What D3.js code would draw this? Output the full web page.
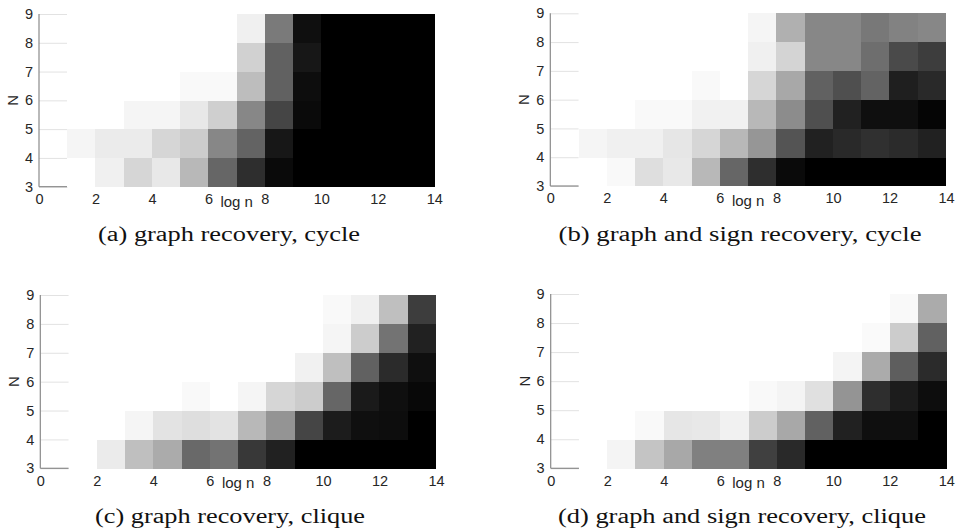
<!DOCTYPE html>
<html><head><meta charset="utf-8">
<script src="https://cdn.jsdelivr.net/npm/d3@7"></script>
<style>body{margin:0;background:#fff}svg{display:block}</style>
</head><body>
<svg id="chart" width="956" height="529"></svg>
<script>
// Data: rows are N = 3..8 (cell [N, N+1]); columns are log n = 1..13 (cell [c, c+1])
// values = darkness (0 = white, 1 = black)
const nRows = [3, 4, 5, 6, 7, 8];
const logNCols = [1, 2, 3, 4, 5, 6, 7, 8, 9, 10, 11, 12, 13];
const xTicks = [0, 2, 4, 6, 8, 10, 12, 14];
const yTicks = [3, 4, 5, 6, 7, 8, 9];

const cycleGraph = [
  [0, 0.06, 0.16, 0.09, 0.28, 0.6, 0.82, 0.96, 1, 1, 1, 1, 1],
  [0.04, 0.08, 0.08, 0.16, 0.2, 0.47, 0.61, 0.91, 1, 1, 1, 1, 1],
  [0, 0, 0.04, 0.04, 0.09, 0.19, 0.47, 0.73, 0.96, 1, 1, 1, 1],
  [0, 0, 0, 0, 0.025, 0.025, 0.26, 0.62, 0.95, 1, 1, 1, 1],
  [0, 0, 0, 0, 0, 0, 0.18, 0.62, 0.91, 1, 1, 1, 1],
  [0, 0, 0, 0, 0, 0, 0.06, 0.52, 0.94, 1, 1, 1, 1]
];
const cycleSign = [
  [0, 0.025, 0.13, 0.09, 0.28, 0.6, 0.82, 0.96, 1, 1, 1, 1, 1],
  [0.04, 0.06, 0.06, 0.1, 0.16, 0.28, 0.41, 0.67, 0.87, 0.84, 0.81, 0.83, 0.87],
  [0, 0, 0.025, 0.025, 0.055, 0.055, 0.28, 0.45, 0.69, 0.87, 0.94, 0.94, 0.98],
  [0, 0, 0, 0, 0.025, 0, 0.16, 0.34, 0.62, 0.69, 0.61, 0.88, 0.84],
  [0, 0, 0, 0, 0, 0, 0.06, 0.17, 0.47, 0.47, 0.57, 0.71, 0.76],
  [0, 0, 0, 0, 0, 0, 0.04, 0.31, 0.47, 0.47, 0.53, 0.49, 0.47]
];
const cliqueGraph = [
  [0, 0.08, 0.25, 0.33, 0.59, 0.55, 0.78, 0.87, 1, 1, 1, 1, 1],
  [0, 0, 0.04, 0.11, 0.13, 0.11, 0.28, 0.42, 0.73, 0.89, 0.94, 0.95, 1],
  [0, 0, 0, 0, 0.025, 0, 0.04, 0.16, 0.2, 0.6, 0.9, 0.94, 0.97],
  [0, 0, 0, 0, 0, 0, 0, 0, 0.055, 0.25, 0.62, 0.83, 0.94],
  [0, 0, 0, 0, 0, 0, 0, 0, 0, 0.04, 0.2, 0.55, 0.87],
  [0, 0, 0, 0, 0, 0, 0, 0, 0, 0.025, 0.06, 0.25, 0.76]
];
const cliqueSign = [
  [0, 0.045, 0.23, 0.34, 0.5, 0.5, 0.75, 0.84, 1, 1, 1, 1, 1],
  [0, 0, 0.025, 0.1, 0.09, 0.055, 0.2, 0.34, 0.62, 0.87, 0.94, 0.94, 1],
  [0, 0, 0, 0, 0, 0, 0.025, 0.045, 0.12, 0.42, 0.82, 0.89, 0.95],
  [0, 0, 0, 0, 0, 0, 0, 0, 0, 0.045, 0.33, 0.63, 0.83],
  [0, 0, 0, 0, 0, 0, 0, 0, 0, 0, 0.02, 0.2, 0.62],
  [0, 0, 0, 0, 0, 0, 0, 0, 0, 0, 0, 0.025, 0.33]
];
const captions = [
  "(a) graph recovery, cycle",
  "(b) graph and sign recovery, cycle",
  "(c) graph recovery, clique",
  "(d) graph and sign recovery, clique"
];

const panels = [
  {data: cycleGraph, caption: captions[0], x0: 39, x1: 434.3, y9: 14, y3: 186.7, cx: 229, cy: 241, cw: 262},
  {data: cycleSign, caption: captions[1], x0: 550.3, x1: 946, y9: 13.3, y3: 186, cx: 740, cy: 241, cw: 363},
  {data: cliqueGraph, caption: captions[2], x0: 40.3, x1: 436, y9: 295, y3: 468.3, cx: 230, cy: 523, cw: 270},
  {data: cliqueSign, caption: captions[3], x0: 550.7, x1: 946.3, y9: 294, y3: 468.3, cx: 742, cy: 523, cw: 368}
];

const SANS = "'Liberation Sans', Arial, Helvetica, sans-serif";
const SERIF = "'Liberation Serif', 'Times New Roman', serif";

const svg = d3.select("#chart");
const color = d3.scaleLinear().domain([0, 1]).range(["#ffffff", "#000000"]);

panels.forEach(p => {
  const x = d3.scaleLinear().domain([0, 14]).range([p.x0, p.x1]);
  const y = d3.scaleLinear().domain([3, 9]).range([p.y3, p.y9]);
  const g = svg.append("g");

  // y axis with light inner ticks spanning [0,1]
  const yAxis = d3.axisLeft(y).tickValues(yTicks).tickFormat(d3.format("d"))
    .tickSize(-(x(1) - x(0))).tickPadding(6);
  const ya = g.append("g").attr("transform", `translate(${x(0)},0)`).call(yAxis)
    .attr("font-family", SANS).attr("font-size", 14.5);
  ya.select(".domain").remove();
  ya.selectAll(".tick line").attr("stroke", "#e2e2e2").attr("stroke-width", 1);
  ya.selectAll(".tick text").style("font-family", SANS).style("font-size", "14.5px").attr("fill", "#262626");

  const xAxis = d3.axisBottom(x).tickValues(xTicks).tickFormat(d3.format("d")).tickSize(0).tickPadding(7);
  const xa = g.append("g").attr("transform", `translate(0,${y(3)})`).call(xAxis)
    .attr("font-family", SANS).attr("font-size", 14.5);
  xa.select(".domain").remove();
  xa.selectAll(".tick text").style("font-family", SANS).style("font-size", "14.5px").attr("fill", "#262626");

  // axis lines
  g.append("line").attr("x1", x(0)).attr("x2", x(0)).attr("y1", y(3)).attr("y2", y(9))
    .attr("stroke", "#8a8a8a").attr("stroke-width", 1.2);
  g.append("line").attr("x1", x(0)).attr("x2", x(1)).attr("y1", y(3)).attr("y2", y(3))
    .attr("stroke", "#8a8a8a").attr("stroke-width", 1.2);

  // cells
  const cells = [];
  p.data.forEach((row, i) => row.forEach((v, j) => cells.push({n: nRows[i], c: logNCols[j], v})));
  g.append("g").selectAll("rect").data(cells).join("rect")
    .attr("x", d => x(d.c))
    .attr("y", d => y(d.n + 1))
    .attr("width", d => x(d.c + 1) - x(d.c) + 0.3)
    .attr("height", d => y(d.n) - y(d.n + 1) + 0.3)
    .attr("fill", d => color(d.v))
    .attr("shape-rendering", "crispEdges");

  // axis labels
  g.append("text").attr("x", x(7)).attr("y", y(3) + 20).attr("text-anchor", "middle")
    .style("font-family", SANS).style("font-size", "15px")
    .attr("fill", "#262626").text("log n");
  g.append("text").attr("transform", `translate(${x(0) - 21},${y(6)}) rotate(-90)`)
    .attr("text-anchor", "middle")
    .style("font-family", SANS).style("font-size", "15px")
    .attr("fill", "#262626").text("N");

  // caption
  g.append("text").attr("x", p.cx).attr("y", p.cy).attr("text-anchor", "middle")
    .style("font-family", SERIF).style("font-size", "20px")
    .attr("fill", "#111")
    .attr("textLength", p.cw).attr("lengthAdjust", "spacingAndGlyphs")
    .text(p.caption);
});
</script>
</body></html>
